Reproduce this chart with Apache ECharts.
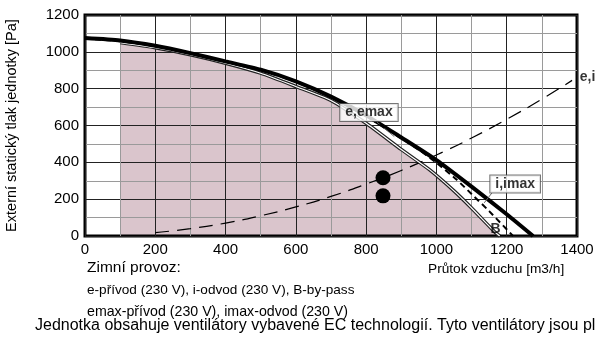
<!DOCTYPE html>
<html>
<head>
<meta charset="utf-8">
<script src="https://cdn.jsdelivr.net/npm/echarts@6/dist/echarts.min.js"></script>
<style>
  html, body { margin: 0; padding: 0; background: #fff; }
  #chart { width: 595px; height: 337px; }
</style>
</head>
<body>
<div id="chart"></div>
<script>
// flow [m3/h], pressure [Pa]
const curveI = [[0, 1075], [100, 1062], [200, 1033], [300, 993], [400, 948], [500, 903], [600, 840], [700, 757], [800, 655], [900, 535], [1000, 412], [1100, 268], [1200, 118], [1275, 0]]
const curveEmax = [[0, 1072], [100, 1058], [200, 1030], [300, 990], [400, 945], [500, 900], [600, 837], [700, 754], [800, 650], [900, 530], [950, 468], [1000, 398], [1058, 305], [1100, 228], [1150, 135], [1218, 0]]
const curveE = [[100, 1050], [200, 1022], [300, 984], [400, 938], [500, 884], [600, 812], [700, 736], [800, 612], [900, 470], [981, 359], [1050, 245], [1100, 152], [1166, 22], [1180, 0]]
const systemCurve = [[200, 18], [300, 40], [400, 70], [500, 110], [600, 158], [700, 215], [800, 282], [900, 356], [1000, 440], [1100, 532], [1200, 634], [1300, 743], [1386, 845]]
const points = [[848, 316], [848, 218]]
const xTicks = [0, 200, 400, 600, 800, 1000, 1200, 1400]
const yTicks = [0, 200, 400, 600, 800, 1000, 1200]
const notes = [
  { name: 'e,emax', value: [808, 670], box: true },
  { name: 'i,imax', value: [1224, 283], box: true },
  { name: 'B', value: [1168, 38], box: false },
  { name: 'e,i', value: [1430, 865], box: false }
]

const font = 'Liberation Sans, Arial, sans-serif'
const myChart = echarts.init(document.getElementById('chart'), null, { renderer: 'canvas' })

const option = {
  animation: false,
  backgroundColor: '#fff',
  textStyle: { fontFamily: font },
  grid: {
    left: 85, right: 18, top: 15, bottom: 101,
    containLabel: false,
    outerBoundsMode: 'none',
    show: true,
    borderColor: '#000',
    borderWidth: 3,
    z: 2
  },
  xAxis: {
    type: 'value',
    min: xTicks[0], max: xTicks[xTicks.length - 1], interval: 200,
    z: 2,
    axisLine: { show: false },
    axisTick: { show: false },
    axisLabel: { fontSize: 15, color: '#000', margin: 6, fontFamily: font, formatter: v => String(v) },
    splitLine: { show: true, lineStyle: { color: '#222', width: 1 } },
    minorTick: { show: false, splitNumber: 2 },
    minorSplitLine: { show: true, lineStyle: { color: '#9a9a9a', width: 1 } }
  },
  yAxis: {
    type: 'value',
    min: yTicks[0], max: yTicks[yTicks.length - 1], interval: 200,
    z: 2,
    name: 'Externí statický tlak jednotky [Pa]',
    nameLocation: 'middle',
    nameGap: 66,
    nameRotate: 90,
    nameTextStyle: { fontSize: 14.5, color: '#000', fontFamily: font },
    axisLine: { show: false },
    axisTick: { show: false },
    axisLabel: { fontSize: 15, color: '#000', margin: 6, fontFamily: font, formatter: v => String(v) },
    splitLine: { show: true, lineStyle: { color: '#222', width: 1 } },
    minorTick: { show: false, splitNumber: 2 },
    minorSplitLine: { show: true, lineStyle: { color: '#9a9a9a', width: 1 } }
  },
  series: [
    {
      // shaded working area under the e curve
      type: 'line',
      data: curveE,
      z: 1,
      symbol: 'none',
      smooth: 0.2,
      lineStyle: { width: 0 },
      areaStyle: { color: '#dac5cc', opacity: 1 }
    },
    {
      type: 'line',
      data: curveE,
      z: 3,
      symbol: 'none',
      smooth: 0.2,
      lineStyle: { color: '#222', width: 3.5 }
    },
    {
      type: 'line',
      data: curveE,
      z: 4,
      symbol: 'none',
      smooth: 0.2,
      lineStyle: { color: '#fff', width: 1.2 }
    },
    {
      type: 'line',
      data: systemCurve,
      z: 3,
      symbol: 'none',
      smooth: true,
      lineStyle: { color: '#000', width: 1.2, type: [14, 8] }
    },
    {
      type: 'line',
      data: curveI,
      z: 4,
      symbol: 'none',
      smooth: 0.2,
      lineStyle: { color: '#000', width: 4 }
    },
    {
      type: 'line',
      data: curveEmax,
      z: 5,
      symbol: 'none',
      smooth: 0.2,
      lineStyle: { color: '#000', width: 2, type: [6, 4] },
      markLine: {
        silent: true,
        symbol: 'none',
        label: { show: false },
        lineStyle: { color: '#666', width: 1, type: 'solid' },
        data: [
          [{ coord: [831, 618] }, { coord: [880, 540] }],
          [{ coord: [1158, 234] }, { coord: [1136, 180] }]
        ]
      }
    },
    {
      type: 'scatter',
      data: points,
      z: 6,
      symbolSize: 15,
      itemStyle: { color: '#000', opacity: 1 }
    },
    {
      type: 'scatter',
      clip: false,
      z: 7,
      symbolSize: 0,
      data: notes.map(n => ({
        name: n.name,
        value: n.value,
        label: n.box
          ? { backgroundColor: '#fff', borderColor: '#555', borderWidth: 1, padding: [2, 5, 1, 5] }
          : {}
      })),
      label: {
        show: true,
        position: 'inside',
        formatter: '{b}',
        fontSize: 14,
        fontWeight: 'bold',
        color: '#000',
        fontFamily: font
      }
    }
  ],
  graphic: [
    { type: 'text', left: 87, top: 260, style: { text: 'Zimní provoz:', font: '15.5px ' + font, fill: '#000' } },
    { type: 'text', left: 428, top: 262, style: { text: 'Průtok vzduchu [m3/h]', font: '13.7px ' + font, fill: '#000' } },
    { type: 'text', left: 87, top: 283, style: { text: 'e-přívod (230 V), i-odvod (230 V), B-by-pass', font: '13.6px ' + font, fill: '#000' } },
    { type: 'text', left: 87, top: 305, style: { text: 'emax-přívod (230 V), imax-odvod (230 V)', font: '14.2px ' + font, fill: '#000' } },
    { type: 'rect', left: 0, top: 319, shape: { width: 595, height: 18 }, style: { fill: '#fff' } },
    { type: 'text', left: 35, top: 318, style: { text: 'Jednotka obsahuje ventilátory vybavené EC technologií. Tyto ventilátory jsou plně regulovatelné', font: '16px ' + font, fill: '#000' } }
  ]
}

myChart.setOption(option)
window.addEventListener('resize', () => myChart.resize())
</script>
</body>
</html>
